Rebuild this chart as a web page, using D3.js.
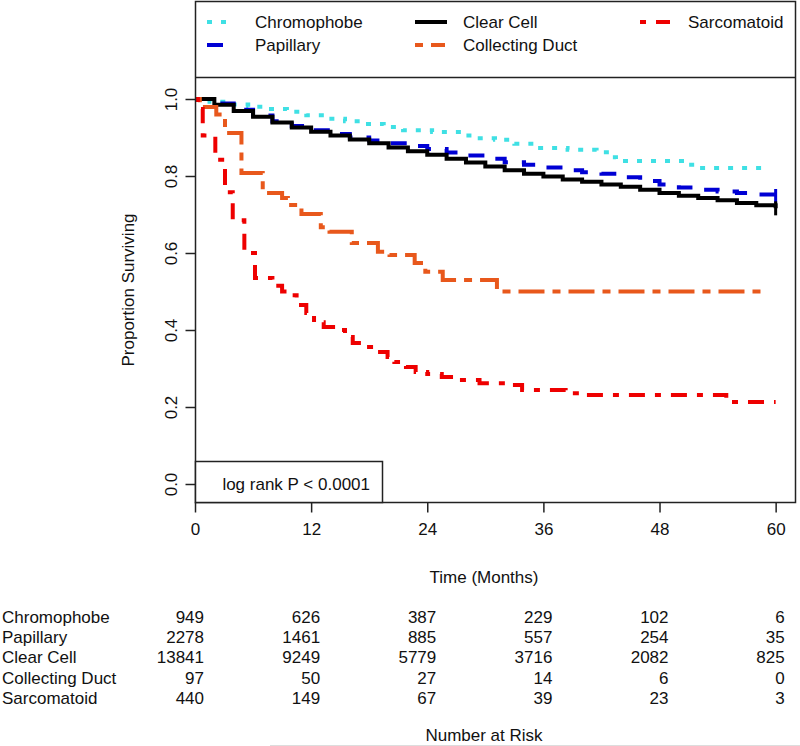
<!DOCTYPE html>
<html><head><meta charset="utf-8">
<script src="https://cdn.jsdelivr.net/npm/d3@7"></script>
<style>body{margin:0;background:#fff}svg{display:block}text{font-family:"Liberation Sans",Arial,sans-serif;fill:#111}</style>
</head><body><svg id="c" width="800" height="746"></svg>
<script>
// ---- data ----
const seriesNames = ["Chromophobe","Papillary","Clear Cell","Collecting Duct","Sarcomatoid"];
const chromoT = [0,1.5,3.5,5.5,7.5,9.5,11.5,13.5,15.5,17.5,19.5,21.5,24.5,27.5,29,31,33,35,38.5,41.5,42.8,43.5,50.9,52,59.4];
const chromoS = [1.0,0.993,0.986,0.980,0.974,0.967,0.958,0.949,0.942,0.935,0.927,0.919,0.914,0.905,0.898,0.894,0.884,0.873,0.868,0.862,0.849,0.839,0.829,0.821,0.821];
const papT = [0,2,4,6,8,10,12,14,16,18,20,22,24,26,28,30,32,34,36,38,40,42,44,46,48,50,52,54,56,58,60];
const papS = [1.0,0.988,0.972,0.957,0.942,0.930,0.919,0.909,0.900,0.892,0.885,0.878,0.870,0.861,0.853,0.845,0.836,0.829,0.822,0.815,0.810,0.806,0.797,0.787,0.778,0.770,0.764,0.760,0.756,0.752,0.748];
const clearT = [0,2,4,6,8,10,12,14,16,18,20,22,24,26,28,30,32,34,36,38,40,42,44,46,48,50,52,54,56,58,60];
const clearS = [1.0,0.985,0.969,0.954,0.939,0.926,0.915,0.905,0.895,0.885,0.874,0.864,0.855,0.845,0.835,0.825,0.815,0.806,0.799,0.791,0.785,0.778,0.772,0.764,0.756,0.749,0.743,0.737,0.730,0.724,0.716];
const ductT = [0,0.5,2.2,3.1,4.8,7.0,9.0,9.6,11.0,13.0,13.9,16.2,18.9,20.1,22.7,23.8,25.6,31.2,59.0];
const ductS = [1.0,0.979,0.960,0.912,0.808,0.756,0.743,0.725,0.701,0.667,0.655,0.626,0.603,0.595,0.574,0.551,0.530,0.500,0.500];
const sarcT = [0,0.3,0.8,2.1,3.1,3.9,5.1,6.2,8.0,9.0,9.9,10.5,11.5,12.3,13.3,14.5,15.5,16.3,17.5,18.8,19.9,20.6,21.8,22.8,24.0,25.5,26.7,29.4,32.8,33.8,38.3,39.8,54.9,60];
const sarcS = [1.0,0.974,0.905,0.842,0.758,0.685,0.600,0.535,0.515,0.500,0.490,0.465,0.444,0.420,0.408,0.400,0.382,0.366,0.356,0.343,0.330,0.317,0.304,0.291,0.286,0.278,0.270,0.262,0.257,0.244,0.236,0.231,0.213,0.213];
const xTicks = [0,12,24,36,48,60];
const yTicks = [0,0.2,0.4,0.6,0.8,1.0];
const riskChromo = [949,626,387,229,102,6];
const riskPap = [2278,1461,885,557,254,35];
const riskClear = [13841,9249,5779,3716,2082,825];
const riskDuct = [97,50,27,14,6,0];
const riskSarc = [440,149,67,39,23,3];

// ---- styles ----
const styles = [
  {color:"#3fe0e4", dash:"5,9", w:4, leg:28},
  {color:"#0000d4", dash:"16,14", w:4, leg:22},
  {color:"#000000", dash:null, w:4, leg:32},
  {color:"#e8581c", dash:"8,8,26,8", w:4, leg:30},
  {color:"#ee0000", dash:"6,10,16,10", w:4, leg:30}
];
const curves = [[chromoT,chromoS],[papT,papS],[clearT,clearS],[ductT,ductS],[sarcT,sarcS]];
const risk = [riskChromo,riskPap,riskClear,riskDuct,riskSarc];

const svg = d3.select("#c");
const x = d3.scaleLinear().domain([0,62]).range([195,795]);
const y = d3.scaleLinear().domain([0,1]).range([484,99]);
const FS = 17;

svg.append("clipPath").attr("id","pc").append("rect").attr("x",195).attr("y",78).attr("width",600).attr("height",424);

const line = d3.line().x(d=>x(d[0])).y(d=>y(d[1])).curve(d3.curveStepAfter);
const g = svg.append("g").attr("clip-path","url(#pc)");
curves.forEach((c,i)=>{
  const pts = c[0].map((t,k)=>[t,c[1][k]]);
  const p = g.append("path").datum(pts).attr("d",line).attr("fill","none")
    .attr("stroke",styles[i].color).attr("stroke-width",styles[i].w).attr("stroke-linejoin","miter");
  if(styles[i].dash) p.attr("stroke-dasharray",styles[i].dash);
});
[1,2].forEach(i=>{
  const c=curves[i]; const t=c[0][c[0].length-1], s=c[1][c[1].length-1];
  g.append("line").attr("x1",x(t)).attr("x2",x(t)).attr("y1",y(s)-7).attr("y2",y(s)+7)
   .attr("stroke",styles[i].color).attr("stroke-width",3);
});

svg.append("rect").attr("x",195.5).attr("y",1.5).attr("width",600).attr("height",501)
  .attr("fill","none").attr("stroke","#222").attr("stroke-width",1.5);
svg.append("line").attr("x1",195).attr("x2",796).attr("y1",77.5).attr("y2",77.5).attr("stroke","#222").attr("stroke-width",1.5);

const xAxis = d3.axisBottom(x).tickValues(xTicks).tickSize(10).tickPadding(10).tickFormat(d3.format("d"));
const xa = svg.append("g").attr("transform","translate(0,502.5)").call(xAxis);
xa.select(".domain").remove();
xa.selectAll("line").attr("stroke","#222").attr("stroke-width",1.5);
xa.selectAll("text").attr("font-size",FS).attr("font-family","Liberation Sans, Arial").attr("fill","#111");

const ya = svg.append("g").attr("transform","translate(195.5,0)").call(d3.axisLeft(y).tickValues(yTicks).tickSize(10).tickFormat(d3.format(".1f")));
ya.select(".domain").remove();
ya.selectAll("line").attr("stroke","#222").attr("stroke-width",1.5);
ya.selectAll("text").attr("font-size",FS).attr("font-family","Liberation Sans, Arial").attr("fill","#111")
  .attr("x",null).attr("dy",null).attr("text-anchor","middle")
  .attr("transform","translate(-25,0) rotate(-90) translate(0,6)");

svg.append("text").attr("transform","translate(128,290) rotate(-90)").attr("text-anchor","middle").attr("dy","0.35em")
  .attr("font-size",FS).text("Proportion Surviving");
svg.append("text").attr("x",484).attr("y",577).attr("text-anchor","middle").attr("dy","0.35em").attr("font-size",FS).text("Time (Months)");

svg.append("rect").attr("x",195.5).attr("y",461.5).attr("width",187).attr("height",41).attr("fill","#fff").attr("stroke","#222").attr("stroke-width",1.5);
svg.append("text").attr("x",370).attr("y",484).attr("text-anchor","end").attr("dy","0.35em").attr("font-size",FS).text("log rank P < 0.0001");

const legPos = [[207,22],[207,45],[415,22],[415,45],[640,22]];
seriesNames.forEach((n,i)=>{
  const [lx,ly]=legPos[i];
  const l = svg.append("line").attr("x1",lx).attr("x2",lx+styles[i].leg).attr("y1",ly).attr("y2",ly)
    .attr("stroke",styles[i].color).attr("stroke-width",styles[i].w);
  if(styles[i].dash) l.attr("stroke-dasharray",styles[i].dash);
  svg.append("text").attr("x",lx+48).attr("y",ly).attr("dy","0.35em").attr("font-size",FS).text(n);
});

const rowY = [617,637,657,678,698];
seriesNames.forEach((n,i)=>{
  svg.append("text").attr("x",2).attr("y",rowY[i]).attr("dy","0.35em").attr("font-size",FS).text(n);
  risk[i].forEach((v,k)=>{
    svg.append("text").attr("x",x(xTicks[k])+9).attr("y",rowY[i]).attr("dy","0.35em")
      .attr("text-anchor","end").attr("font-size",FS).text(v);
  });
});
svg.append("text").attr("x",484).attr("y",735).attr("text-anchor","middle").attr("dy","0.35em").attr("font-size",FS).text("Number at Risk");
svg.append("line").attr("x1",270).attr("x2",800).attr("y1",745.5).attr("y2",745.5).attr("stroke","#ddd").attr("stroke-width",1);
</script></body></html>
